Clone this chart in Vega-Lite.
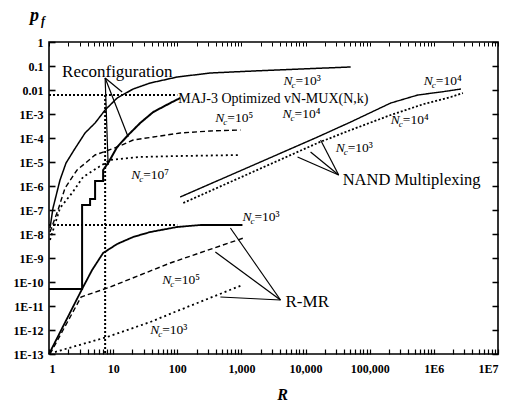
{
  "$schema": "https://vega.github.io/schema/vega-lite/v6.json",
  "width": 449,
  "height": 312,
  "autosize": {"type": "none"},
  "padding": {"left": 49, "top": 42, "right": 8, "bottom": 51},
  "background": "white",
  "config": {
    "view": {"stroke": "black", "strokeWidth": 1.6},
    "axis": {"grid": false, "domain": false, "ticks": true, "tickColor": "black", "labelColor": "black", "labelFont": "Liberation Serif", "labelFontWeight": "bold", "labelFontSize": 12, "titleFont": "Liberation Serif", "titleColor": "black", "zindex": 1},
    "text": {"font": "Liberation Serif", "color": "black"}
  },
  "resolve": {"axis": {"x": "independent", "y": "independent"}},
  "datasets": {
    "lines": [
      {"s": "recon3", "i": 1, "R": 1.037, "p": 1.78e-8},
      {"s": "recon3", "i": 2, "R": 1.155, "p": 1.21e-7},
      {"s": "recon3", "i": 3, "R": 1.485, "p": 1.78e-6},
      {"s": "recon3", "i": 4, "R": 1.843, "p": 9.09e-6},
      {"s": "recon3", "i": 5, "R": 2.458, "p": 3.16e-5},
      {"s": "recon3", "i": 6, "R": 3.65, "p": 1.62e-4},
      {"s": "recon3", "i": 7, "R": 5.23, "p": 4.22e-4},
      {"s": "recon3", "i": 8, "R": 7.5, "p": 1.47e-3},
      {"s": "recon3", "i": 9, "R": 11.55, "p": 4.64e-3},
      {"s": "recon3", "i": 10, "R": 20.5, "p": 1.10e-2},
      {"s": "recon3", "i": 11, "R": 37.9, "p": 1.96e-2},
      {"s": "recon3", "i": 12, "R": 100, "p": 3.48e-2},
      {"s": "recon3", "i": 13, "R": 328, "p": 5.11e-2},
      {"s": "recon3", "i": 14, "R": 1540, "p": 6.19e-2},
      {"s": "recon3", "i": 15, "R": 8355, "p": 7.5e-2},
      {"s": "recon3", "i": 16, "R": 50500, "p": 9.09e-2},
      {"s": "maj", "i": 1, "R": 1, "p": 5.11e-11},
      {"s": "maj", "i": 2, "R": 3.28, "p": 5.11e-11},
      {"s": "maj", "i": 3, "R": 3.28, "p": 1.62e-7},
      {"s": "maj", "i": 4, "R": 4.37, "p": 1.62e-7},
      {"s": "maj", "i": 5, "R": 4.37, "p": 2.87e-7},
      {"s": "maj", "i": 6, "R": 5.23, "p": 2.87e-7},
      {"s": "maj", "i": 7, "R": 5.23, "p": 1.62e-6},
      {"s": "maj", "i": 8, "R": 6.98, "p": 1.62e-6},
      {"s": "maj", "i": 9, "R": 6.98, "p": 4.64e-6},
      {"s": "maj", "i": 10, "R": 8.36, "p": 9.09e-6},
      {"s": "maj", "i": 11, "R": 11.55, "p": 4.22e-5},
      {"s": "maj", "i": 12, "R": 17.15, "p": 1.33e-4},
      {"s": "maj", "i": 13, "R": 26.4, "p": 4.22e-4},
      {"s": "maj", "i": 14, "R": 42.2, "p": 1.21e-3},
      {"s": "maj", "i": 15, "R": 77.8, "p": 2.87e-3},
      {"s": "maj", "i": 16, "R": 111, "p": 4.64e-3},
      {"s": "recon5", "i": 1, "R": 1.037, "p": 1.21e-8},
      {"s": "recon5", "i": 2, "R": 1.382, "p": 1e-7},
      {"s": "recon5", "i": 3, "R": 1.778, "p": 8.25e-7},
      {"s": "recon5", "i": 4, "R": 2.738, "p": 4.64e-6},
      {"s": "recon5", "i": 5, "R": 5.23, "p": 1.96e-5},
      {"s": "recon5", "i": 6, "R": 11.55, "p": 4.22e-5},
      {"s": "recon5", "i": 7, "R": 20.5, "p": 8.25e-5},
      {"s": "recon5", "i": 8, "R": 42.2, "p": 1.10e-4},
      {"s": "recon5", "i": 9, "R": 111, "p": 1.62e-4},
      {"s": "recon5", "i": 10, "R": 328, "p": 1.96e-4},
      {"s": "recon5", "i": 11, "R": 965, "p": 2.15e-4},
      {"s": "recon7", "i": 1, "R": 1.037, "p": 5.62e-9},
      {"s": "recon7", "i": 2, "R": 1.485, "p": 1.21e-7},
      {"s": "recon7", "i": 3, "R": 2.288, "p": 5.11e-7},
      {"s": "recon7", "i": 4, "R": 3.40, "p": 2.37e-6},
      {"s": "recon7", "i": 5, "R": 5.62, "p": 5.62e-6},
      {"s": "recon7", "i": 6, "R": 8.98, "p": 1.21e-5},
      {"s": "recon7", "i": 7, "R": 26.4, "p": 1.62e-5},
      {"s": "recon7", "i": 8, "R": 111, "p": 1.78e-5},
      {"s": "recon7", "i": 9, "R": 965, "p": 1.96e-5},
      {"s": "guideA", "i": 1, "R": 1, "p": 6.19e-3},
      {"s": "guideA", "i": 2, "R": 100, "p": 6.19e-3},
      {"s": "guideB", "i": 1, "R": 7.5, "p": 6.19e-3},
      {"s": "guideB", "i": 2, "R": 7.5, "p": 1e-13},
      {"s": "guideC", "i": 1, "R": 1, "p": 2.37e-8},
      {"s": "guideC", "i": 2, "R": 100, "p": 2.37e-8},
      {"s": "rmr3", "i": 1, "R": 1, "p": 1e-13},
      {"s": "rmr3", "i": 2, "R": 3.28, "p": 5.11e-11},
      {"s": "rmr3", "i": 3, "R": 4.70, "p": 3.16e-10},
      {"s": "rmr3", "i": 4, "R": 6.98, "p": 1.62e-9},
      {"s": "rmr3", "i": 5, "R": 11.55, "p": 3.83e-9},
      {"s": "rmr3", "i": 6, "R": 20.5, "p": 7.5e-9},
      {"s": "rmr3", "i": 7, "R": 37.9, "p": 1.21e-8},
      {"s": "rmr3", "i": 8, "R": 100, "p": 1.96e-8},
      {"s": "rmr3", "i": 9, "R": 229, "p": 2.37e-8},
      {"s": "rmr3", "i": 10, "R": 1037, "p": 2.37e-8},
      {"s": "rmr5", "i": 1, "R": 1.037, "p": 1e-13},
      {"s": "rmr5", "i": 2, "R": 3.162, "p": 2.37e-11},
      {"s": "rmr5", "i": 3, "R": 8.98, "p": 6.19e-11},
      {"s": "rmr5", "i": 4, "R": 77.8, "p": 6.19e-10},
      {"s": "rmr5", "i": 5, "R": 1075, "p": 6.81e-9},
      {"s": "rmr3b", "i": 1, "R": 1.241, "p": 1.21e-13},
      {"s": "rmr3b", "i": 2, "R": 8.06, "p": 5.11e-13},
      {"s": "rmr3b", "i": 3, "R": 37.9, "p": 2.15e-12},
      {"s": "rmr3b", "i": 4, "R": 100, "p": 6.19e-12},
      {"s": "rmr3b", "i": 5, "R": 1037, "p": 7.5e-11},
      {"s": "nand", "i": 1, "R": 111, "p": 3.48e-7},
      {"s": "nand", "i": 2, "R": 1981, "p": 1e-5},
      {"s": "nand", "i": 3, "R": 15400, "p": 1.10e-4},
      {"s": "nand", "i": 4, "R": 50500, "p": 4.64e-4},
      {"s": "nand", "i": 5, "R": 213000, "p": 2.87e-3},
      {"s": "nand", "i": 6, "R": 562000, "p": 6.19e-3},
      {"s": "nand", "i": 7, "R": 1286000, "p": 8.25e-3},
      {"s": "nand", "i": 8, "R": 2640000, "p": 1.10e-2},
      {"s": "nandDot", "i": 1, "R": 124, "p": 1.96e-7},
      {"s": "nandDot", "i": 2, "R": 1382, "p": 3.48e-6},
      {"s": "nandDot", "i": 3, "R": 15400, "p": 6.19e-5},
      {"s": "nandDot", "i": 4, "R": 50500, "p": 2.15e-4},
      {"s": "nandDot", "i": 5, "R": 213000, "p": 9.09e-4},
      {"s": "nandDot", "i": 6, "R": 698000, "p": 2.61e-3},
      {"s": "nandDot", "i": 7, "R": 1845000, "p": 5.11e-3},
      {"s": "nandDot", "i": 8, "R": 2840000, "p": 7.5e-3}
    ],
    "arrows": [
      {"R": 7.5, "p": 3.16e-2, "R2": 13.82, "p2": 8.25e-3},
      {"R": 7.5, "p": 3.16e-2, "R2": 17.15, "p2": 1.10e-4},
      {"R": 7.5, "p": 3.16e-2, "R2": 8.36, "p2": 7.5e-6},
      {"R": 32800, "p": 2.87e-6, "R2": 7500, "p2": 1.62e-5},
      {"R": 32800, "p": 2.87e-6, "R2": 11970, "p2": 2.61e-5},
      {"R": 32800, "p": 2.87e-6, "R2": 17150, "p2": 8.25e-5},
      {"R": 4064, "p": 1.78e-11, "R2": 673, "p2": 1.78e-8},
      {"R": 4064, "p": 1.78e-11, "R2": 392, "p2": 1.78e-9},
      {"R": 4064, "p": 1.78e-11, "R2": 470, "p2": 2.37e-11}
    ],
    "names": [
      {"t": "Reconfiguration", "g": "a", "R": 1.597, "p": 5.62e-2},
      {"t": "MAJ-3 Optimized vN-MUX(N,k)", "g": "b", "R": 103.7, "p": 4.22e-3},
      {"t": "NAND Multiplexing", "g": "c", "R": 37860, "p": 1.78e-6},
      {"t": "R-MR", "g": "a", "R": 4870, "p": 1.47e-11}
    ],
    "nc": [
      {"e": "=10³", "R": 4530, "p": 2.37e-2},
      {"e": "=10⁴", "R": 4375, "p": 1e-3},
      {"e": "=10⁵", "R": 392, "p": 6.81e-4},
      {"e": "=10⁷", "R": 19.1, "p": 2.87e-6},
      {"e": "=10⁴", "R": 698000, "p": 2.37e-2},
      {"e": "=10⁴", "R": 213000, "p": 5.62e-4},
      {"e": "=10³", "R": 29430, "p": 3.83e-5},
      {"e": "=10³", "R": 1037, "p": 5.11e-8},
      {"e": "=10⁵", "R": 58.3, "p": 1.21e-10},
      {"e": "=10³", "R": 37.9, "p": 1e-12}
    ],
    "sub": [{"t": "f", "R": 0.806, "p": 7.5}]
  },
  "layer": [
    {
      "data": {"name": "lines"},
      "mark": {"type": "line", "color": "black", "strokeCap": "butt"},
      "encoding": {
        "x": {"field": "R", "type": "quantitative", "scale": {"type": "log", "domain": [1, 10000000], "nice": false},
          "axis": {
            "orient": "bottom", "offset": -5,
            "values": [1,2,3,4,5,6,7,8,9,10,20,30,40,50,60,70,80,90,100,200,300,400,500,600,700,800,900,1000,2000,3000,4000,5000,6000,7000,8000,9000,10000,20000,30000,40000,50000,60000,70000,80000,90000,100000,200000,300000,400000,500000,600000,700000,800000,900000,1000000,2000000,3000000,4000000,5000000,6000000,7000000,8000000,9000000,10000000],
            "labelExpr": "abs(log(datum.value)/LN10 - round(log(datum.value)/LN10)) > 0.01 ? '' : datum.value < 1000 ? format(datum.value, 'd') : datum.value < 1000000 ? format(datum.value, ',d') : '1E' + round(log(datum.value)/LN10)",
            "tickSize": 5, "tickWidth": 1.2,
            "labelPadding": 9, "labelOverlap": false, "labelFlush": true,
            "title": "R", "titleFontSize": 16, "titleFontWeight": "bold", "titleFontStyle": "italic",
            "titleX": 233, "titleY": 45, "titleAlign": "center", "titleBaseline": "middle"
          }},
        "y": {"field": "p", "type": "quantitative", "scale": {"type": "log", "domain": [1e-13, 1], "nice": false},
          "axis": {
            "orient": "left", "offset": -6,
            "values": [1e-13,1e-12,1e-11,1e-10,1e-9,1e-8,1e-7,1e-6,1e-5,1e-4,1e-3,1e-2,1e-1,1],
            "labelExpr": "datum.value > 0.5 ? '1' : datum.value > 0.05 ? '0.1' : datum.value > 0.005 ? '0.01' : '1E' + round(log(datum.value)/LN10)",
            "tickSize": 6, "tickWidth": 1.6, "labelPadding": 6, "labelOverlap": false, "labelFlush": false,
            "title": "p", "titleAngle": 0, "titleX": -21, "titleY": -27, "titleAlign": "center", "titleBaseline": "middle",
            "titleFontSize": 18, "titleFontWeight": "bold", "titleFontStyle": "italic"
          }},
        "strokeDash": {"field": "s", "type": "nominal", "legend": null,
          "scale": {"type": "ordinal", "domain": ["recon3","maj","recon5","recon7","guideA","guideB","guideC","rmr3","rmr5","rmr3b","nand","nandDot"],
            "range": [[1,0],[1,0],[5,3],[2,3],[2,2],[2,2],[2,2],[1,0],[5,3],[2,3],[1,0],[2,2]]}},
        "strokeWidth": {"field": "s", "type": "nominal", "legend": null,
          "scale": {"type": "ordinal", "domain": ["recon3","maj","recon5","recon7","guideA","guideB","guideC","rmr3","rmr5","rmr3b","nand","nandDot"],
            "range": [1.5,2,1.4,1.8,2,2,2,1.8,1.4,1.8,1.4,1.8]}},
        "order": {"field": "i", "type": "quantitative"}
      }
    },
    {
      "data": {"name": "arrows"},
      "mark": {"type": "rule", "color": "black", "strokeWidth": 1.2},
      "encoding": {
        "x": {"field": "R", "type": "quantitative", "scale": {"type": "log", "domain": [1, 10000000], "nice": false}, "axis": null},
        "y": {"field": "p", "type": "quantitative", "scale": {"type": "log", "domain": [1e-13, 1], "nice": false}, "axis": null},
        "x2": {"field": "R2"},
        "y2": {"field": "p2"}
      }
    },
    {
      "data": {"name": "names"},
      "layer": [
        {"transform": [{"filter": "datum.g == 'a'"}], "mark": {"type": "text", "align": "left", "baseline": "middle", "fontSize": 17}},
        {"transform": [{"filter": "datum.g == 'b'"}], "mark": {"type": "text", "align": "left", "baseline": "middle", "fontSize": 14}},
        {"transform": [{"filter": "datum.g == 'c'"}], "mark": {"type": "text", "align": "left", "baseline": "middle", "fontSize": 16.5}}
      ],
      "encoding": {
        "x": {"field": "R", "type": "quantitative", "scale": {"type": "log", "domain": [1, 10000000], "nice": false}, "axis": null},
        "y": {"field": "p", "type": "quantitative", "scale": {"type": "log", "domain": [1e-13, 1], "nice": false}, "axis": null},
        "text": {"field": "t"}
      }
    },
    {
      "data": {"name": "nc"},
      "layer": [
        {"mark": {"type": "text", "align": "left", "baseline": "middle", "fontSize": 13.5, "fontStyle": "italic", "text": "N"}},
        {"mark": {"type": "text", "align": "left", "baseline": "middle", "fontSize": 9, "fontStyle": "italic", "text": "c", "dx": 8, "dy": 4}},
        {"mark": {"type": "text", "align": "left", "baseline": "middle", "fontSize": 13.5, "dx": 12}, "encoding": {"text": {"field": "e"}}}
      ],
      "encoding": {
        "x": {"field": "R", "type": "quantitative", "scale": {"type": "log", "domain": [1, 10000000], "nice": false}, "axis": null},
        "y": {"field": "p", "type": "quantitative", "scale": {"type": "log", "domain": [1e-13, 1], "nice": false}, "axis": null}
      }
    },
    {
      "data": {"name": "sub"},
      "mark": {"type": "text", "align": "center", "baseline": "middle", "fontSize": 12, "fontStyle": "italic", "fontWeight": "bold"},
      "encoding": {
        "x": {"field": "R", "type": "quantitative", "scale": {"type": "log", "domain": [1, 10000000], "nice": false},
          "axis": {"orient": "top", "offset": -4, "labels": false, "title": null, "tickSize": 4, "tickWidth": 1,
            "values": [1,2,3,4,5,6,7,8,9,10,20,30,40,50,60,70,80,90,100,200,300,400,500,600,700,800,900,1000,2000,3000,4000,5000,6000,7000,8000,9000,10000,20000,30000,40000,50000,60000,70000,80000,90000,100000,200000,300000,400000,500000,600000,700000,800000,900000,1000000,2000000,3000000,4000000,5000000,6000000,7000000,8000000,9000000,10000000]}},
        "y": {"field": "p", "type": "quantitative", "scale": {"type": "log", "domain": [1e-13, 1], "nice": false},
          "axis": {"orient": "right", "offset": -6, "labels": false, "title": null, "tickSize": 6, "tickWidth": 1.5,
            "values": [1e-13,1e-12,1e-11,1e-10,1e-9,1e-8,1e-7,1e-6,1e-5,1e-4,1e-3,1e-2,1e-1,1]}},
        "text": {"field": "t"}
      }
    }
  ]
}
